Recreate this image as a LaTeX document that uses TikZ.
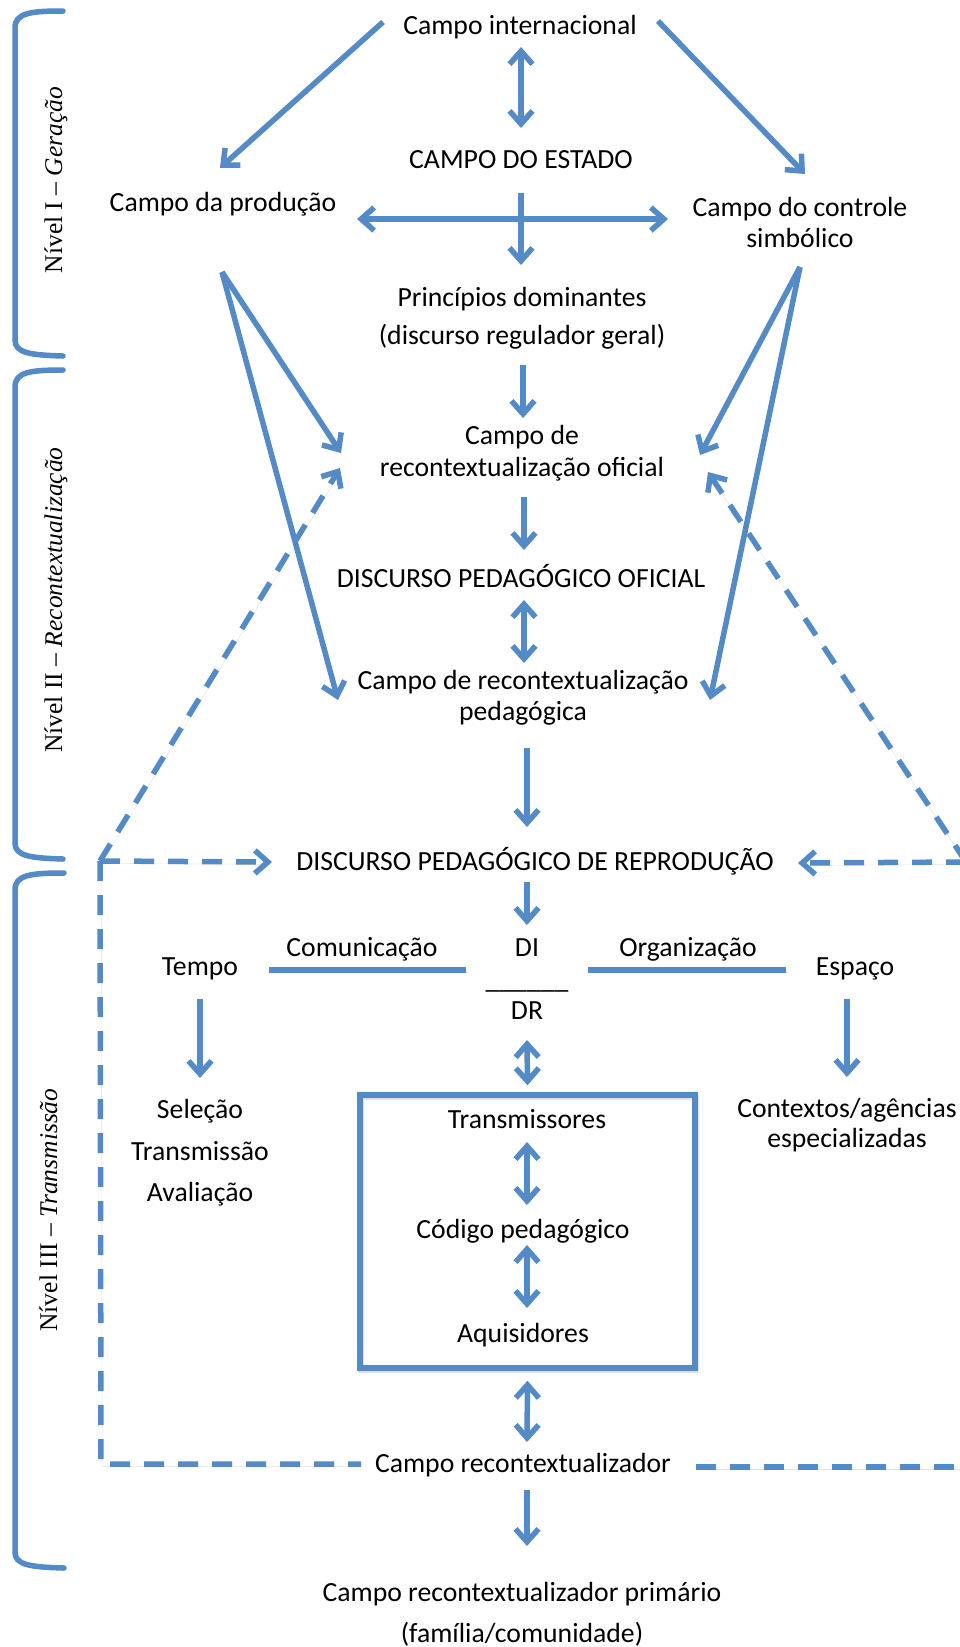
\documentclass[tikz,border=0pt]{standalone}
\usepackage{fontspec}
\setmainfont{Carlito}
\newfontfamily\sidefont{Liberation Serif}
\usetikzlibrary{arrows.meta,calc}

\definecolor{linkblue}{RGB}{84,138,198}

\tikzset{
  lbl/.style={anchor=base, inner sep=0pt, font=\fontsize{27.7}{31}\selectfont},
  side/.style={rotate=90, anchor=base, inner sep=0pt, font=\sidefont\fontsize{25.5}{30}\selectfont},
  shade under/.style={preaction={draw=black, draw opacity=0.12, transform canvas={shift={(1.2pt,-2.4pt)}}}},
  wire/.style={draw=linkblue, line width=5.5pt, shade under},
  tip/.tip={Straight Barb[length=13pt,width=23pt]},
  arr/.style={wire, -tip},
  darr/.style={wire, tip-tip},
  dash line/.style={wire, dash pattern=on 20pt off 14pt},
  dash arr/.style={dash line, -tip},
  brace/.style={wire, line cap=round},
  framebox/.style={draw=linkblue, line width=5.5pt, inner sep=0pt, shade under},
}

\begin{document}
\begin{tikzpicture}[x=1pt,y=-1pt]
\clip (0,0) rectangle (960,1647);
\fill[white] (0,0) rectangle (960,1647);

% level brackets
\draw[brace] (63,11) .. controls (30,11) and (15,13) .. (15,28) -- (15,340)
  .. controls (15,353) and (30,355) .. (63,356);
\draw[brace] (63,370) .. controls (30,370) and (15,372) .. (15,387) -- (15,843)
  .. controls (15,856) and (30,858) .. (63,859);
\draw[brace] (64,873) .. controls (30,873) and (15,875) .. (15,890) -- (15,1552)
  .. controls (15,1565) and (30,1567) .. (64,1568);

% level labels
\node[side] (lv1) at (62,180) {Nível I – \textit{Geração}};
\node[side] (lv2) at (62,600) {Nível II – \textit{Recontextualização}};
\node[side] (lv3) at (57,1210) {Nível III – \textit{Transmissão}};

% level I
\node[lbl] (intl)   at (520,34)  {Campo internacional};
\node[lbl] (estado) at (521,168) {CAMPO DO ESTADO};
\node[lbl] (prod)   at (223,211) {Campo da produção};
\node[lbl] (ctrl)   at (800,216) {Campo do controle};
\node[lbl] (ctrlb)  at (800,247) {simbólico};
\node[lbl] (princ)  at (522,306) {Princípios dominantes};
\node[lbl] (princb) at (522,344) {(discurso regulador geral)};

% level II
\node[lbl] (ofic)   at (522,444) {Campo de};
\node[lbl] (oficb)  at (522,476) {recontextualização oficial};
\node[lbl] (dpo)    at (521,587) {DISCURSO PEDAGÓGICO OFICIAL};
\node[lbl] (crp)    at (523,689) {Campo de recontextualização};
\node[lbl] (crpb)   at (523,720) {pedagógica};

% level III
\node[lbl] (dpr)    at (535,870)  {DISCURSO PEDAGÓGICO DE REPRODUÇÃO};
\node[lbl] (di)     at (527,956)  {DI};
\node[lbl] (frac)   at (527,988)  {\_\_\_\_\_\_};
\node[lbl] (dr)     at (527,1019) {DR};
\node[lbl] (tempo)  at (200,975)  {Tempo};
\node[lbl] (comun)  at (362,956)  {Comunicação};
\node[lbl] (organ)  at (688,956)  {Organização};
\node[lbl] (espaco) at (855,975)  {Espaço};
\node[lbl] (sel)    at (200,1118) {Seleção};
\node[lbl] (transm) at (200,1160) {Transmissão};
\node[lbl] (aval)   at (200,1201) {Avaliação};
\node[lbl] (ctx)    at (847,1117) {Contextos/agências};
\node[lbl] (ctxb)   at (847,1147) {especializadas};
\node[framebox, minimum width=335pt, minimum height=273pt] (box) at (527.5,1231.5) {};
\node[lbl] (trans)  at (527,1128) {Transmissores};
\node[lbl] (cod)    at (523,1238) {Código pedagógico};
\node[lbl] (aquis)  at (523,1342) {Aquisidores};
\node[lbl] (crec)   at (523,1472) {Campo recontextualizador};
\node[lbl] (prim)   at (522,1601) {Campo recontextualizador primário};
\node[lbl] (primb)  at (522,1642) {(família/comunidade)};

% solid connectors
\draw[darr] ($(intl.base)+(1,13)$) -- ($(estado.base)+(0,-40)$);
\draw[arr] ($(intl.base)+(-137,-12)$) -- ($(prod.base)+(-3,-43)$);
\draw[arr] ($(intl.base)+(138,-13)$) -- ($(ctrl.base)+(5,-42)$);
\draw[darr] ($(prod.base)+(134,8)$) -- ($(ctrl.base)+(-132,3)$);
\draw[arr] ($(estado.base)+(0,25)$) -- ($(princ.base)+(-1,-41)$);
\draw[arr] ($(prod.base)+(-1,61)$) -- ($(oficb.base)+(-181,-23)$);
\draw[arr] ($(prod.base)+(-1,61)$) -- ($(crpb.base)+(-185,-20)$);
\draw[arr] ($(ctrlb.base)+(0,20)$) -- ($(oficb.base)+(178,-21)$);
\draw[arr] ($(ctrlb.base)+(0,20)$) -- ($(crpb.base)+(187,-20)$);
\draw[arr] ($(princb.base)+(1,21)$) -- ($(ofic.base)+(1,-26)$);
\draw[arr] ($(oficb.base)+(2,21)$) -- ($(dpo.base)+(3,-37)$);
\draw[darr] ($(dpo.base)+(3,13)$) -- ($(crp.base)+(1,-26)$);
\draw[arr] ($(crpb.base)+(4,28)$) -- ($(dpr.base)+(-8,-43)$);
\draw[arr] ($(dpr.base)+(-8,12)$) -- ($(di.base)+(0,-31)$);
\draw[wire] ($(comun.base)+(-93,14)$) -- ($(comun.base)+(104,14)$);
\draw[wire] ($(organ.base)+(-100,14)$) -- ($(organ.base)+(98,14)$);
\draw[arr] ($(tempo.base)+(0,24)$) -- ($(sel.base)+(0,-40)$);
\draw[arr] ($(espaco.base)+(-8,24)$) -- ($(ctx.base)+(0,-40)$);
\draw[darr] ($(dr.base)+(0,21)$) -- ($(box.north)+(0,-7)$);
\draw[darr] ($(trans.base)+(0,14)$) -- ($(trans.base)+(0,77)$);
\draw[darr] ($(cod.base)+(4,7)$) -- ($(aquis.base)+(4,-34)$);
\draw[darr] ($(box.south)+(0,10)$) -- ($(crec.base)+(4,-30)$);
\draw[arr] ($(crec.base)+(4,18)$) -- ($(prim.base)+(5,-55)$);

% dashed feedback loop
\coordinate (lc) at (100,861);
\coordinate (lb) at (101,1464);
\coordinate (rc) at (966,862);
\coordinate (rb) at (975,1467);
\draw[dash arr] (lc) -- ($(oficb.base)+(-182,-8)$);
\draw[dash arr] (lc) -- ($(dpr.base)+(-263,-8)$);
\draw[dash line] (lc) -- (lb) -- ($(crec.base)+(-162,-8)$);
\draw[dash line] ($(crec.base)+(173,-5)$) -- (rb);
\draw[dash arr] (rc) -- ($(oficb.base)+(186,-4)$);
\draw[dash arr] (rc) -- ($(dpr.base)+(263,-7)$);
\end{tikzpicture}
\end{document}
